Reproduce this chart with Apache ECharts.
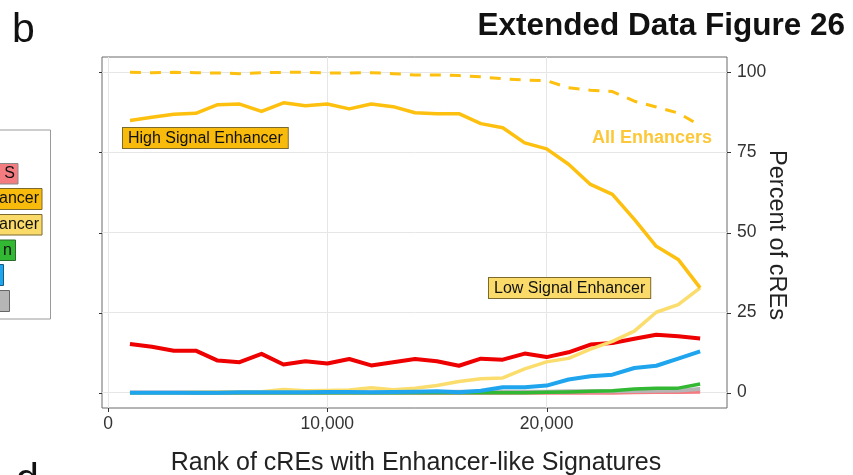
<!DOCTYPE html>
<html>
<head>
<meta charset="utf-8">
<script src="https://cdn.jsdelivr.net/npm/echarts@6/dist/echarts.min.js"></script>
<style>html,body{margin:0;padding:0;background:#fff;}#c{width:853px;height:475px;}</style>
</head>
<body>
<div id="c"></div>
<script>
const ranks = [1000,2000,3000,4000,5000,6000,7000,8000,9000,10000,11000,12000,13000,14000,15000,16000,17000,18000,19000,20000,21000,22000,23000,24000,25000,26000,27000];
const allEnhancers = [100.0,99.9,100.0,99.9,99.8,99.6,99.9,100.0,100.0,99.8,99.8,99.9,99.6,99.2,99.2,99.0,98.6,98.0,97.6,97.4,95.2,94.4,94.0,91.0,89.2,87.3,83.4];
const highSignal = [85.0,86.0,86.9,87.2,89.9,90.1,87.8,90.5,89.6,90.1,88.6,90.1,89.3,87.4,87.1,87.1,84.0,82.7,78.0,76.1,71.3,65.0,61.9,54.1,45.7,41.6,32.7];
const lowSignal = [0.0,0.0,0.0,0.1,0.2,0.3,0.3,1.0,0.6,0.7,0.8,1.5,0.9,1.4,2.2,3.5,4.3,4.6,7.4,9.6,10.7,13.6,16.0,19.2,25.1,27.5,32.7];
const redSeries = [15.2,14.3,13.1,13.1,10.0,9.5,12.1,8.8,9.8,9.1,10.5,8.5,9.5,10.5,9.8,8.4,10.6,10.3,12.2,11.1,12.6,15.0,15.5,16.8,18.1,17.6,16.9];
const blueSeries = [0.0,0.0,0.0,0.0,0.0,0.1,0.1,0.1,0.1,0.2,0.2,0.1,0.2,0.3,0.4,0.1,0.6,1.7,1.7,2.2,4.1,5.1,5.6,7.7,8.4,10.6,12.9];
const greenSeries = [0,0,0,0,0,0,0,0,0,0,0,0,0,0,0,0,0,0,0,0.1,0.2,0.4,0.6,1.1,1.4,1.4,2.7];
const graySeries = [0,0,0,0,0,0,0,0,0,0,0,0,0,0.1,0.2,0.3,0.3,0.3,0.3,0.3,0.4,0.4,0.4,0.5,0.6,0.7,1.1];
const pinkSeries = [0,0,0,0,0,0,0,0,0,0,0,0,0,0,0,0,0,0,0,0,0,0,0,0.1,0.2,0.2,0.3];
const xTicks = [0,10000,20000];
const yTicks = [0,25,50,75,100];

const FONT = 'Liberation Sans, Arial, sans-serif';
const pair = arr => ranks.map((r,i)=>[r,arr[i]]);
function line(name, data, color, width, z, dashed){
  return {name, type:'line', data:pair(data), symbol:'none', z,
    lineStyle:{color, width, type: dashed ? [11,9] : 'solid', cap:'butt', join:'round'},
    itemStyle:{color}, animation:false, silent:true};
}
const X_RANGE = {min:-275, max:28225};
const Y_RANGE = {min:-4.8, max:104.8};
const staticGraphic = [
    {type:'text', x:12, y:10, style:{text:'b', font:'41px '+FONT, fill:'#111'}},
    {type:'text', x:845, y:26, style:{text:'Extended Data Figure 26', font:'bold 31.5px '+FONT, fill:'#111', align:'right', verticalAlign:'middle'}},
    {type:'text', x:16, y:460, style:{text:'d', font:'41px '+FONT, fill:'#111'}},
    {type:'text', x:416, y:463, style:{text:'Rank of cREs with Enhancer-like Signatures', font:'25px '+FONT, fill:'#222', align:'center', verticalAlign:'middle'}},
    {type:'text', x:776, y:235, rotation:-Math.PI/2, style:{text:'Percent of cREs', font:'23.5px '+FONT, fill:'#222', align:'center', verticalAlign:'middle'}},
    {type:'text', x:123, y:128, z:20, style:{text:'High Signal Enhancer', font:'16px '+FONT, fill:'#111', backgroundColor:'#f8bb0c', borderColor:'#7c6a2c', borderWidth:1, padding:[3,5,1,5]}},
    {type:'text', x:489, y:278, z:20, style:{text:'Low Signal Enhancer', font:'16px '+FONT, fill:'#111', backgroundColor:'#fadb6a', borderColor:'#7c6a2c', borderWidth:1, padding:[3,5,1,5]}},
    {type:'text', x:712, y:138, z:20, style:{text:'All Enhancers', font:'bold 18px '+FONT, fill:'#fcc83a', align:'right', verticalAlign:'middle'}},
    {type:'rect', shape:{x:-5, y:130, width:55.5, height:189}, style:{fill:'#fff', stroke:'#9a9a9a', lineWidth:1}},
    {type:'rect', shape:{x:-5, y:163.5, width:23, height:20.5}, style:{fill:'#f47b80', stroke:'#888', lineWidth:1}},
    {type:'text', x:15, y:174, style:{text:'S', font:'16px '+FONT, fill:'#111', align:'right', verticalAlign:'middle'}},
    {type:'rect', shape:{x:-5, y:188.5, width:47, height:21}, style:{fill:'#f8bb0c', stroke:'#7c6a2c', lineWidth:1}},
    {type:'text', x:39, y:199, style:{text:'ancer', font:'16px '+FONT, fill:'#111', align:'right', verticalAlign:'middle'}},
    {type:'rect', shape:{x:-5, y:214.5, width:47, height:20.5}, style:{fill:'#fadb6a', stroke:'#7c6a2c', lineWidth:1}},
    {type:'text', x:39, y:225, style:{text:'ancer', font:'16px '+FONT, fill:'#111', align:'right', verticalAlign:'middle'}},
    {type:'rect', shape:{x:-5, y:240, width:20.5, height:20.5}, style:{fill:'#33b833', stroke:'#2a6a2a', lineWidth:1}},
    {type:'text', x:12, y:250.5, style:{text:'n', font:'16px '+FONT, fill:'#111', align:'right', verticalAlign:'middle'}},
    {type:'rect', shape:{x:-5, y:264.5, width:8.5, height:21}, style:{fill:'#1ea5ee', stroke:'#1a5a80', lineWidth:1}},
    {type:'rect', shape:{x:-5, y:290.5, width:14.5, height:21}, style:{fill:'#b5b5b5', stroke:'#666', lineWidth:1}}
];
const chart = echarts.init(document.getElementById('c'), null, {renderer:'canvas'});
chart.setOption({
  backgroundColor:'#ffffff',
  animation:false,
  grid:{left:102, right:126, top:57, bottom:67, show:true, borderColor:'#6a6a6a', borderWidth:1, backgroundColor:'transparent'},
  xAxis:[Object.assign({type:'value', position:'bottom'}, X_RANGE, {
    axisLine:{show:false},
    axisTick:{show:false, customValues:xTicks},
    axisLabel:{customValues:xTicks, margin:7, fontSize:17.5, color:'#333', fontFamily:FONT,
      formatter:v=>v.toLocaleString('en-US')},
    splitLine:{show:true, lineStyle:{color:'#e6e6e6', width:1}}})],
  yAxis:[Object.assign({type:'value', position:'right'}, Y_RANGE, {
    axisLine:{show:false},
    axisTick:{show:false, customValues:yTicks},
    axisLabel:{customValues:yTicks, margin:10, fontSize:17.5, color:'#333', fontFamily:FONT},
    splitLine:{show:true, lineStyle:{color:'#e6e6e6', width:1}}})],
  series:[
    line('PLS', pinkSeries, '#f47b80', 4, 2),
    line('Other', graySeries, '#b5b5b5', 4, 3),
    line('Green', greenSeries, '#33b833', 3.5, 4),
    line('Red', redSeries, '#ee0000', 4, 5),
    line('Low Signal Enhancer', lowSignal, '#fbdd6e', 3.5, 6),
    line('Blue', blueSeries, '#1ea5ee', 4, 7),
    line('High Signal Enhancer', highSignal, '#fdc00f', 3.5, 8),
    line('All Enhancers', allEnhancers, '#fdc00f', 3, 9, true)
  ],
  graphic: staticGraphic
});
// axis tick marks placed through the chart's own scales
const crisp = v => Math.round(v) + 0.5;
const px = v => chart.convertToPixel({xAxisIndex:0}, v);
const py = v => chart.convertToPixel({yAxisIndex:0}, v);
const xl = Math.round(px(X_RANGE.min)), xr = Math.round(px(X_RANGE.max)), yb = Math.round(py(Y_RANGE.min));
const tickEls = [];
const tStyle = {stroke:'#333', lineWidth:1};
xTicks.forEach(v => { const x = crisp(px(v)); tickEls.push({type:'line', shape:{x1:x, y1:yb, x2:x, y2:yb+4}, style:tStyle, silent:true}); });
yTicks.forEach(v => { const y = crisp(py(v));
  tickEls.push({type:'line', shape:{x1:xr, y1:y, x2:xr+4, y2:y}, style:tStyle, silent:true});
  tickEls.push({type:'line', shape:{x1:xl-3, y1:y, x2:xl, y2:y}, style:tStyle, silent:true}); });
chart.setOption({graphic: staticGraphic.concat(tickEls)});
</script>
</body>
</html>
